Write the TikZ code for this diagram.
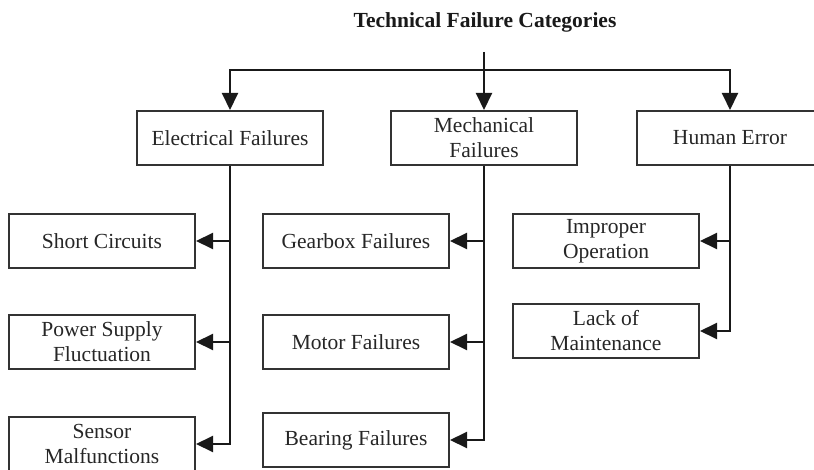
\documentclass[tikz,border=0pt]{standalone}
\usepackage{fontspec}
\setmainfont{Liberation Serif}
\usetikzlibrary{arrows.meta}

\begin{document}
\begin{tikzpicture}[ x=1pt, y=-1pt, >={Triangle[length=17pt,width=16pt]},
    catbox/.style={draw=black!80, line width=2pt, minimum width=186pt, minimum height=54pt, align=center, inner sep=1pt, text=black!85, font=\fontsize{21.5}{25}\selectfont},
    link/.style={line width=2pt, black!90, ->} ]
    \useasboundingbox (0,0) rectangle (814,470);

    % Title
    \node[font=\fontsize{21.5}{25}\selectfont\bfseries, text=black!90] (title) at (485,22) {Technical Failure Categories};
    \coordinate (root) at (484,52);
    \coordinate (bar) at (484,70);

    % --- Categories ---
    \node[catbox] (elec) at (230,138) {Electrical Failures};
    \node[catbox] (mech) at (484,138) {Mechanical\\Failures};
    \node[catbox] (human) at (730,138) {Human Error};

    % --- Electrical ---
    \node[catbox] (short) at (102,241) {Short Circuits};
    \node[catbox] (power) at (102,342) {Power Supply\\Fluctuation};
    \node[catbox] (sensor) at (102,444) {Sensor\\Malfunctions};

    % --- Mechanical ---
    \node[catbox] (gear) at (356,241) {Gearbox Failures};
    \node[catbox] (motor) at (356,342) {Motor Failures};
    \node[catbox] (bearing) at (356,440) {Bearing Failures};

    % --- Human ---
    \node[catbox] (improper) at (606,241) {Improper\\Operation};
    \node[catbox] (lack) at (606,331) {Lack of\\Maintenance};

    % Links
    \draw[link] (root) -- (mech);
    \draw[link] (bar) -| (elec);
    \draw[link] (bar) -| (human);

    \draw[link] (elec.south) |- (sensor.east);
    \draw[link] (elec.south |- short.east) -- (short.east);
    \draw[link] (elec.south |- power.east) -- (power.east);

    \draw[link] (mech.south) |- (bearing.east);
    \draw[link] (mech.south |- gear.east) -- (gear.east);
    \draw[link] (mech.south |- motor.east) -- (motor.east);

    \draw[link] (human.south) |- (lack.east);
    \draw[link] (human.south |- improper.east) -- (improper.east);
  \end{tikzpicture}
\end{document}
